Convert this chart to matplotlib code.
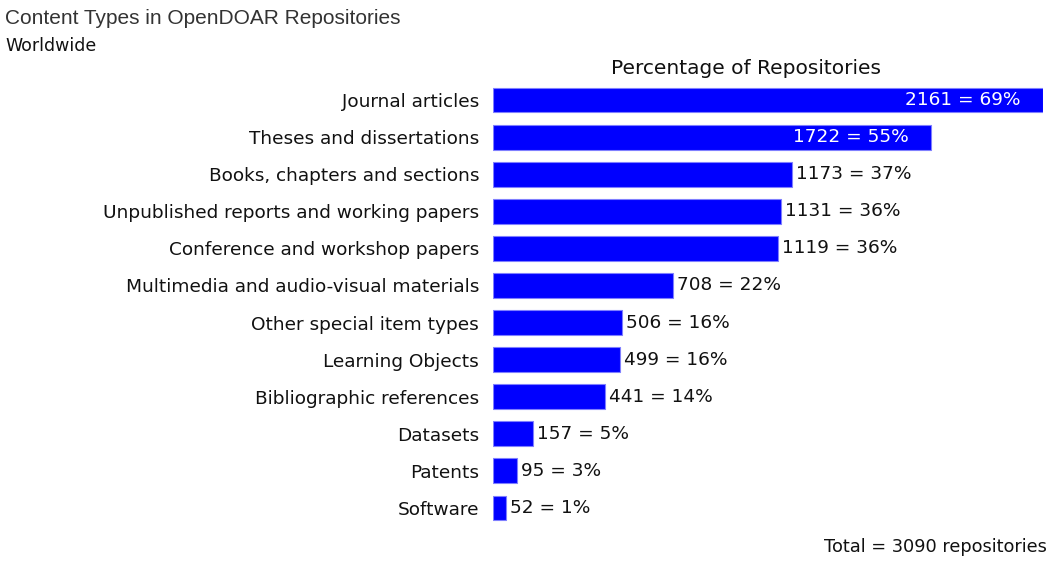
import matplotlib.pyplot as plt

categories = [
    "Journal articles",
    "Theses and dissertations",
    "Books, chapters and sections",
    "Unpublished reports and working papers",
    "Conference and workshop papers",
    "Multimedia and audio-visual materials",
    "Other special item types",
    "Learning Objects",
    "Bibliographic references",
    "Datasets",
    "Patents",
    "Software",
]
counts = [2161, 1722, 1173, 1131, 1119, 708, 506, 499, 441, 157, 95, 52]
percents = [69, 55, 37, 36, 36, 22, 16, 16, 14, 5, 3, 1]
total = 3090

plt.rcParams['font.family'] = ['DejaVu Sans']

fig = plt.figure(figsize=(10.55, 5.64), dpi=100)
ax = fig.add_axes([493 / 1055, 1 - 526.5 / 564, 550 / 1055, 445 / 564])

y = list(range(len(categories)))
ax.barh(y, counts, height=0.67, color='#0000ff', edgecolor='#7f7fff', linewidth=0.8)
ax.set_xlim(0, max(counts))
ax.set_ylim(len(categories) - 0.5, -0.5)

label_size = 13.3
for i, (c, p) in enumerate(zip(counts, percents)):
    txt = f"{c} = {p}%"
    if c > 1500:
        ax.annotate(txt, (c, i), xytext=(-16, 0), textcoords='offset points',
                    ha='right', va='center', color='white', fontsize=label_size)
    else:
        ax.annotate(txt, (c, i), xytext=(3, 0), textcoords='offset points',
                    ha='left', va='center', color='#111111', fontsize=label_size)

ax.set_yticks(y)
ax.set_yticklabels(categories, fontsize=label_size, color='#111111')
ax.tick_params(axis='y', length=0, pad=10)
ax.set_xticks([])
for s in ax.spines.values():
    s.set_visible(False)

fig.text(5 / 1055, 1 - 18 / 564, "Content Types in OpenDOAR Repositories",
         fontsize=15, va='center', ha='left', color='#333333',
         family='Liberation Sans')
fig.text(5 / 1055, 1 - 46 / 564, "Worldwide", fontsize=12.5, va='center', ha='left',
         color='#111111')
fig.text(746 / 1055, 1 - 68 / 564, "Percentage of Repositories", fontsize=14.5,
         va='center', ha='center', color='#111111')
fig.text(1047 / 1055, 1 - 547 / 564, f"Total = {total} repositories", fontsize=12.8,
         va='center', ha='right', color='#111111')

fig.savefig("out.png", dpi=100)
